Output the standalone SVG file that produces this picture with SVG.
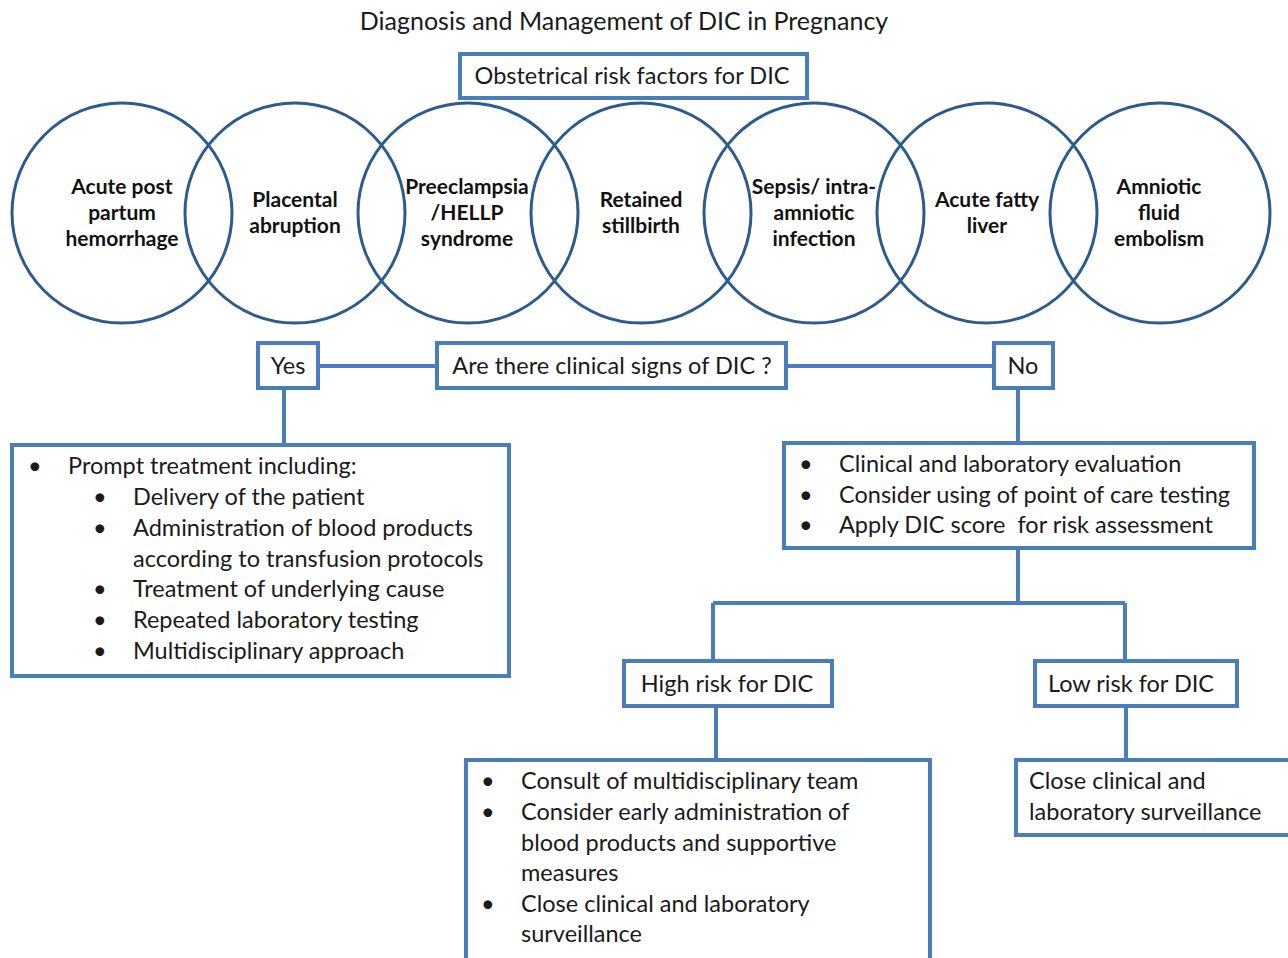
<svg xmlns="http://www.w3.org/2000/svg" width="1288" height="958" viewBox="0 0 1288 958">
<style>
.box{fill:#fff;stroke:#4a7ebb;stroke-width:4}
.circ{fill:none;stroke:#2d5b8e;stroke-width:3}
.conn{fill:none;stroke:#4a7ebb;stroke-width:4}
.t{font-family:Lato,"Open Sans",sans-serif;font-size:23.5px;fill:#1a1a1a}
.c{font-family:Lato,"Open Sans",sans-serif;font-size:21px;font-weight:bold;fill:#111;text-anchor:middle}
.title{font-family:Lato,"Open Sans",sans-serif;font-size:25px;fill:#1a1a1a;text-anchor:middle}
</style>
<rect width="1288" height="958" fill="#fff"/>
<text class="title" x="624" y="30">Diagnosis and Management of DIC in Pregnancy</text>

<g id="connectors">
<path class="conn" d="M318 366H437M786 366H994"/>
<path class="conn" d="M284 388V445"/>
<path class="conn" d="M1018 388V443"/>
<path class="conn" d="M1018 548V603M713 603H1125M713 603V661M1125 603V661"/>
<path class="conn" d="M716 706V760"/>
<path class="conn" d="M1126 706V760"/>
</g>

<g id="risk-factors">
<rect class="box" x="460" y="54" width="347" height="44"/>
<text class="t" x="632" y="84" text-anchor="middle">Obstetrical risk factors for DIC</text>
</g>

<g id="c1"><circle class="circ" cx="122" cy="213" r="110"/>
<text class="c" x="122" y="194">Acute post</text><text class="c" x="122" y="220">partum</text><text class="c" x="122" y="246">hemorrhage</text></g>
<g id="c2"><circle class="circ" cx="295" cy="213" r="110"/>
<text class="c" x="295" y="207">Placental</text><text class="c" x="295" y="233">abruption</text></g>
<g id="c3"><circle class="circ" cx="468" cy="213" r="110"/>
<text class="c" x="467" y="194">Preeclampsia</text><text class="c" x="467" y="220">/HELLP</text><text class="c" x="467" y="246">syndrome</text></g>
<g id="c4"><circle class="circ" cx="641" cy="213" r="110"/>
<text class="c" x="641" y="207">Retained</text><text class="c" x="641" y="233">stillbirth</text></g>
<g id="c5"><circle class="circ" cx="814" cy="213" r="110"/>
<text class="c" x="814" y="194">Sepsis/ intra-</text><text class="c" x="814" y="220">amniotic</text><text class="c" x="814" y="246">infection</text></g>
<g id="c6"><circle class="circ" cx="987" cy="213" r="110"/>
<text class="c" x="987" y="207">Acute fatty</text><text class="c" x="987" y="233">liver</text></g>
<g id="c7"><circle class="circ" cx="1160" cy="213" r="110"/>
<text class="c" x="1159" y="194">Amniotic</text><text class="c" x="1159" y="220">fluid</text><text class="c" x="1159" y="246">embolism</text></g>

<g id="yes"><rect class="box" x="258" y="343" width="60" height="45"/>
<text class="t" x="288" y="374" text-anchor="middle">Yes</text></g>
<g id="question"><rect class="box" x="437" y="343" width="349" height="45"/>
<text class="t" x="612" y="374" text-anchor="middle">Are there clinical signs of DIC ?</text></g>
<g id="no"><rect class="box" x="994" y="343" width="59" height="45"/>
<text class="t" x="1023" y="374" text-anchor="middle">No</text></g>

<g id="treatment"><rect class="box" x="12" y="445" width="497" height="231"/>
<text class="t" x="28" y="474">•</text><text class="t" x="68" y="474">Prompt treatment including:</text>
<text class="t" x="93" y="505">•</text><text class="t" x="133" y="505">Delivery of the patient</text>
<text class="t" x="93" y="536">•</text><text class="t" x="133" y="536">Administration of blood products</text>
<text class="t" x="133" y="567">according to transfusion protocols</text>
<text class="t" x="93" y="597">•</text><text class="t" x="133" y="597">Treatment of underlying cause</text>
<text class="t" x="93" y="628">•</text><text class="t" x="133" y="628">Repeated laboratory testing</text>
<text class="t" x="93" y="659">•</text><text class="t" x="133" y="659">Multidisciplinary approach</text>
</g>

<g id="evaluation"><rect class="box" x="784" y="443" width="470" height="105"/>
<text class="t" x="799" y="472">•</text><text class="t" x="839" y="472">Clinical and laboratory evaluation</text>
<text class="t" x="799" y="503">•</text><text class="t" x="839" y="503">Consider using of point of care testing</text>
<text class="t" x="799" y="533">•</text><text class="t" x="839" y="533" xml:space="preserve">Apply DIC score  for risk assessment</text>
</g>

<g id="high"><rect class="box" x="624" y="661" width="208" height="45"/>
<text class="t" x="727" y="692" text-anchor="middle">High risk for DIC</text></g>
<g id="low"><rect class="box" x="1035" y="661" width="202" height="45"/>
<text class="t" x="1131" y="692" text-anchor="middle">Low risk for DIC</text></g>

<g id="high-actions"><rect class="box" x="466" y="760" width="464" height="200"/>
<text class="t" x="481" y="789">•</text><text class="t" x="521" y="789">Consult of multidisciplinary team</text>
<text class="t" x="481" y="820">•</text><text class="t" x="521" y="820">Consider early administration of</text>
<text class="t" x="521" y="851">blood products and supportive</text>
<text class="t" x="521" y="881">measures</text>
<text class="t" x="481" y="912">•</text><text class="t" x="521" y="912">Close clinical and laboratory</text>
<text class="t" x="521" y="942">surveillance</text>
</g>

<g id="low-actions"><rect class="box" x="1016" y="760" width="280" height="75"/>
<text class="t" x="1029" y="789">Close clinical and</text>
<text class="t" x="1029" y="820">laboratory surveillance</text>
</g>
</svg>
